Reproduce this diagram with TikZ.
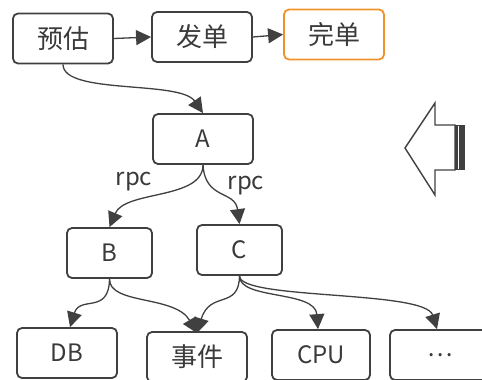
\documentclass[tikz,border=0pt]{standalone}
\usepackage{fontspec}
\setmainfont{Noto Sans CJK SC}
\usetikzlibrary{arrows.meta}
\definecolor{lineC}{HTML}{404040}
\definecolor{txtC}{HTML}{3A3A3A}
\definecolor{doneC}{HTML}{F0922C}
\def\cjksize{\fontsize{26}{26}\selectfont}
\def\latsize{\fontsize{24}{24}\selectfont}

\begin{document}
\begin{tikzpicture}[x=1pt,y=-1pt,
	box/.style={draw=lineC, line width=1.8pt, rounded corners=5pt, minimum width=100pt, minimum height=50pt, text=txtC, inner sep=0pt},
	link/.style={draw=lineC, line width=1.3pt, -{Triangle[length=15pt,width=15pt]}},
	lbl/.style={text=txtC, font=\latsize}]
		\useasboundingbox (0,0) rectangle (482,380);
		%%%%% START %%%%%
		\node[box, font=\cjksize] (est) at (63,38.5) {预估};
		\node[box, font=\cjksize] (send) at (202,37) {发单};
		\node[box, font=\cjksize, draw=doneC] (done) at (334,34.5) {完单};
		
		\node[box, font=\latsize] (A) at (203,139) {A};
		\node[box, font=\latsize, minimum width=85pt] (B) at (109.5,253) {B};
		\node[box, font=\latsize, minimum width=85pt] (C) at (239.5,250) {C};
		
		\node[box, font=\latsize] (db) at (67,353) {DB};
		\node[box, font=\cjksize] (evt) at (197,357) {事件};
		\node[box, font=\latsize, minimum width=98pt] (cpu) at (321,355) {CPU};
		\node[box, font=\latsize] (more) at (440,355) {\dots};
		
		\draw[link] (est.east) -- (send.west);
		\draw[link] (send.east) -- (done.west);
		\draw[link] (est.south) .. controls (63,95) and (180,80) .. (A.north);
		
		\draw[link] (A.south) .. controls (203,200) and (125,190) .. (B.north);
		\draw[link] (A.south) .. controls (205,200) and (235,190) .. (C.north);
		\node[lbl] (rpcB) at (134,182) {rpc};
		\node[lbl] (rpcC) at (246,186) {rpc};
		
		\draw[link] (B.south) .. controls (109,315) and (80,295) .. ([xshift=3pt]db.north);
		\draw[link] (B.south) .. controls (109,305) and (175,295) .. ([yshift=-2pt]evt.north);
		\draw[link] (C.south) .. controls (239,310) and (210,290) .. ([yshift=-2pt]evt.north);
		\draw[link] (C.south) .. controls (239,300) and (315,290) .. ([xshift=-3pt]cpu.north);
		\draw[link] (C.south) .. controls (239,300) and (425,290) .. ([xshift=-3pt]more.north);
		
		% big hollow arrow
		\draw[lineC, line width=1.4pt, line join=miter] (405,148) -- (435,103) -- (435,125) -- (455,125) -- (455,170) -- (435,170) -- (435,195) -- cycle;
		\fill[lineC] (455,125) rectangle (465,170);
		\draw[white, line width=0.7pt] (458.5,126) -- (458.5,169);
		%%%%% END %%%%%
\end{tikzpicture}
\end{document}
